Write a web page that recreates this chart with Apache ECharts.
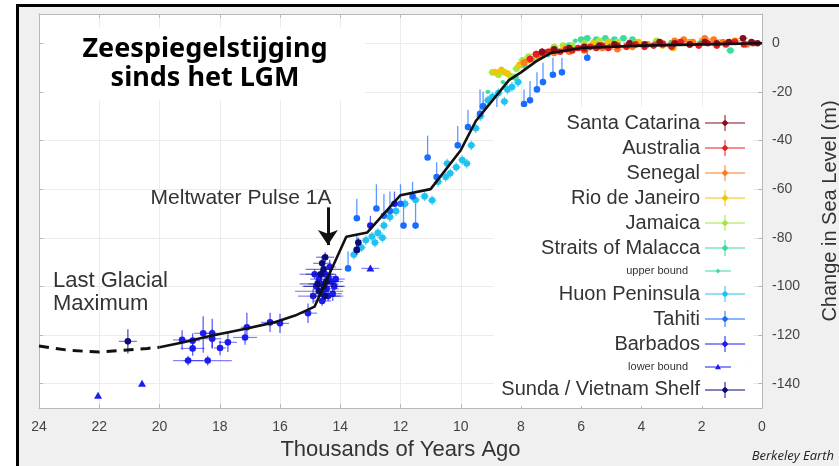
<!DOCTYPE html>
<html><head><meta charset="utf-8">
<script src="https://cdn.jsdelivr.net/npm/echarts@6/dist/echarts.min.js"></script>
<style>html,body{margin:0;padding:0;background:#fff}#c{width:839px;height:466px}</style>
</head><body><div id="c"></div>
<script>
// ---- axis ticks ----
const xTicks = [24, 22, 20, 18, 16, 14, 12, 10, 8, 6, 4, 2, 0];
const yTicks = [0, -20, -40, -60, -80, -100, -120, -140];

// ---- fitted curve [age ka, level m] ----
const fitDashed = [[24, -124.5], [23, -126.3], [22, -127], [21.2, -126.3], [20.4, -125.5], [20, -125]];
const fitSolid = [[20, -125], [19.2, -123], [18.4, -120.6], [17.1, -117.3], [16.2, -114.8], [15.5, -112], [14.85, -108.3],
  [13.8, -79.6], [13.1, -77.8], [12.0, -62.5], [11.0, -60], [10.0, -44], [9.5, -32], [8.4, -15.2], [8.0, -12],
  [7.5, -7.5], [7.0, -4], [6.0, -2], [4.0, -1], [2.0, -0.5], [0, 0]];

// ---- data: [age, level, ageErr, levelErrDown, levelErrUp] ----
const santaCatarina = [[7.3,-3.5,0.2,1.5,1.5],[6.9,-2.5,0.2,1,1],[6.4,-2,0.2,1,1],[5.9,-1.5,0.2,1,1],[5.4,-1,0.2,1,1],[4.9,-0.5,0.2,1,1],[4.4,0,0.2,1,1],[3.9,-0.5,0.2,1,1],[3.4,0.5,0.2,1,1],[2.9,0,0.2,1,1],[2.4,-0.5,0.2,1,1],[1.9,0.5,0.2,1,1],[1.5,0,0.2,1,1],[1.1,0.5,0.2,1,1],[0.63,2,0.15,1,1],[0.35,0.5,0.1,1,1],[0.15,0,0.1,1,1]];
const australia = [[7.7,-6.5,0.15,1.5,1.5],[7.5,-4.5,0.15,1.5,1.5],[7.3,-4,0.15,1,1],[7.1,-3.5,0.15,1,1],[6.9,-3,0.15,1,1],[6.7,-3.5,0.15,1,1],[6.5,-2.5,0.15,1,1],[6.3,-3,0.15,1,1],[6.1,-2,0.15,1,1],[5.9,-2.5,0.15,1,1],[5.7,-1.5,0.15,1,1],[5.5,-2,0.15,1,1],[5.3,-1,0.15,1,1],[5.1,-2,0.15,1,1],[4.8,-1,0.15,1,1],[4.5,-1.5,0.15,1,1],[4.2,-0.5,0.15,1,1],[3.9,-1.5,0.15,1,1],[3.6,-1,0.15,1,1],[3.3,-0.5,0.15,1,1],[3.0,-1.5,0.15,1,1],[2.7,0.5,0.15,1,1],[2.4,-0.5,0.15,1,1],[2.1,-1,0.15,1,1],[1.8,0,0.15,1,1],[1.5,-1,0.15,1,1],[1.2,-0.5,0.15,1,1],[0.9,0.5,0.15,1,1],[0.6,-0.5,0.15,1,1],[0.3,0,0.1,1,1]];
const senegal = [[7.9,-8,0.2,1.5,1.5],[7.4,-5.5,0.2,1.5,1.5],[6.9,-4,0.2,1,1],[6.4,-3.5,0.2,1,1],[5.9,-3,0.2,1,1],[5.3,-2,0.2,1,1],[4.8,-2.5,0.2,1,1],[4.3,-1.5,0.2,1,1],[3.8,-0.5,0.2,1,1],[3.3,0,0.2,1,1],[2.9,1,0.2,1,1],[2.6,1.5,0.2,1,1],[2.3,0.5,0.2,1,1],[1.9,2,0.2,1,1],[1.6,1.5,0.2,1,1],[1.3,0.5,0.2,1,1],[0.9,1,0.2,1,1],[0.5,-0.5,0.2,1,1]];
const rioDeJaneiro = [[8.85,-12,0.15,1.5,1.5],[8.65,-11,0.15,1.5,1.5],[8.45,-12.5,0.15,1.5,1.5],[8.05,-9,0.15,1.5,1.5],[7.75,-7,0.15,1,1],[7.35,-5,0.15,1,1],[6.95,-3,0.15,1,1],[6.55,-2,0.15,1,1],[5.6,0,0.15,1,1],[5.1,0.5,0.15,1,1],[4.1,0.5,0.15,1,1],[3.3,-1,0.15,1,1],[2.95,-2,0.15,1,1],[2.4,0.5,0.15,1,1],[1.9,1,0.15,1,1]];
const jamaica = [[8.95,-12,0.15,1.5,1.5],[8.75,-13,0.15,1.5,1.5],[8.55,-12,0.15,1.5,1.5],[8.35,-13.5,0.15,1.5,1.5],[8.15,-10.5,0.15,1.5,1.5],[7.95,-7,0.15,1,1],[7.75,-5.5,0.15,1,1],[7.5,-6,0.15,1,1],[7.2,-4,0.15,1,1],[6.9,-1.5,0.15,1,1],[6.6,-1,0.15,1,1],[6.3,-1,0.15,1,1],[5.9,0,0.15,1,1],[5.4,1,0.15,1,1],[4.8,0.5,0.15,1,1],[4.2,0,0.15,1,1],[3.5,1,0.15,1,1]];
const malacca = [[8.2,-14,0.15,1.5,1.5],[7.9,-9,0.15,1.5,1.5],[7.6,-6.5,0.15,1,1],[7.3,-4.5,0.15,1,1],[6.9,-2,0.15,1,1],[6.4,-1,0.15,1,1],[6.0,1.5,0.15,1,1],[5.8,2,0.15,1,1],[5.5,1.5,0.15,1,1],[5.2,2,0.15,1,1],[4.9,1.5,0.15,1,1],[4.6,2,0.15,1,1],[4.3,1.5,0.15,1,1],[3.0,0,0.15,1,1],[2.0,0.5,0.15,1,1],[1.05,-3,0.15,1,1]];
const upperBound = [[9.1,-20,0.1,0,0],[8.6,-16,0.1,0,0],[7.1,-5,0.1,0,0],[6.2,1,0.1,0,0]];
const huon = [[13.55,-87,0.15,2,2],[13.3,-84,0.15,2,2],[13.15,-81,0.15,2,2],[12.95,-79.5,0.15,2,2],[12.75,-78,0.15,2,2],[12.55,-75,0.15,2,2],[12.35,-71.5,0.15,2,2],[12.15,-69,0.15,2,2],[11.85,-66,0.15,2,2],[11.5,-64.5,0.15,2,2],[11.2,-63,0.15,2,2],[10.95,-64.6,0.15,2,2],[10.75,-57,0.15,2,2],[10.5,-55,0.15,2,2],[10.35,-53.5,0.15,2,2],[10.15,-51,0.15,2,2],[10.45,-49.5,0.15,2,2],[9.95,-48,0.15,2,2],[9.8,-49.5,0.15,2,2],[9.65,-42,0.15,2,2],[9.5,-35,0.15,2,2],[9.35,-30,0.15,2,2],[9.25,-26,0.15,2,2],[9.1,-23.5,0.15,2,2],[8.95,-22,0.15,2,2],[8.75,-20.5,0.15,2,2],[8.55,-24,0.15,2,2],[8.45,-19,0.15,2,2],[8.3,-18,0.15,2,2],[8.1,-16,0.15,2,2],[12.6,-80,0.15,2,2],[12.85,-82,0.15,2,2]];
const tahiti = [[13.74,-92.6,0.05,1,7],[13.45,-85,0.05,1,6],[13.45,-72,0.05,1,8],[12.8,-68,0.05,1,10],[12.55,-71,0.05,1,9],[12.35,-69,0.05,1,8],[12.0,-66,0.05,1,8],[11.9,-75,0.05,1,9],[11.5,-75,0.05,1,9],[11.6,-63,0.05,1,6],[11.1,-47,0.05,1,9],[10.8,-55,0.05,1,6],[10.1,-42,0.05,1,8],[9.76,-34.5,0.05,1,7],[9.36,-29,0.05,1,10],[9.26,-26,0.05,1,6],[8.8,-29,0.05,1,7],[8.63,-34,0.05,1,6],[8.7,-33,0.05,1,6],[7.9,-25,0.05,1,6],[7.7,-23.5,0.05,1,8],[7.47,-19,0.05,1,7],[7.27,-16,0.05,1,8],[6.94,-13,0.05,1,7],[6.64,-12,0.05,1,6],[5.8,-6,0.05,1,3]];
const barbados = [[19.25,-122,0.3,4,4],[18.9,-122.3,0.25,3,3],[18.9,-125.5,0.4,3,3],[19.05,-130.5,0.5,2,2],[18.4,-130.5,0.8,2,2],[18.55,-119.3,0.3,8,7],[18.25,-119.3,0.3,6,6],[18.25,-121.5,0.3,4,4],[17.99,-125.3,0.2,3,3],[17.73,-123,0.3,4,4],[17.16,-121,0.4,3,3],[17.1,-116.8,0.2,4,6],[16.33,-114.8,0.3,4,4],[16.0,-115.2,0.3,4,4],[15.07,-111,0.3,4,4],
  [14.9,-104,0.5,3,3],[14.8,-100,0.4,3,3],[14.7,-97,0.3,2,3],[14.6,-103,0.4,3,3],[14.55,-99,0.5,2,2],[14.5,-95,0.3,3,3],[14.45,-101,0.4,2,2],[14.4,-96,0.3,2,2],[14.35,-92,0.2,3,3],[14.3,-98,0.4,2,2],[14.25,-103,0.3,3,3],[14.2,-100,0.3,2,2],[14.6,-106,0.3,2,2],[14.85,-95,0.5,2,2],[14.15,-97,0.3,2,2],[14.4,-104,0.5,2,2],
  [13.0,-75,0.1,1,4],[12.2,-66,0.1,1,5]];
const lowerBound = [[22.04,-145,0,0,0],[20.58,-140,0,0,0],[13.0,-92.6,0.3,0,0]];
const sunda = [[21.05,-122.6,0.3,5,5],[14.75,-99,0.6,2,2],[14.65,-95,0.5,2,2],[14.55,-100,0.7,2,2],[14.5,-104,0.5,2,2],[14.45,-98,0.4,2,2],[14.6,-90.5,0.3,3,3],[14.5,-88,0.3,2,2],[14.7,-102,0.8,2,2],[14.55,-93,0.6,2,2],[13.45,-85,0.1,2,2],[13.4,-82,0.1,2,2]];

// ---- annotation anchors ----
const mwpArrow = [[14.41, -67.5], [14.41, -83]];

const ICON_BIG = 'path://M0,7.5h40v1h-40z M19.5,0h1v16h-1z M20,4.5L23.5,8L20,11.5L16.5,8z';
const ICON_UP = 'path://M0,7.6h26v0.8h-26z M13,5.6L15.4,8L13,10.4L10.6,8z M40,0L40.02,0L40,16z';
const ICON_LOW = 'path://M0,7.6h26v0.8h-26z M13,4.8L16,10.2L10,10.2z M40,0L40.02,0L40,16z';

const sets = [
  {name: 'Santa Catarina', data: santaCatarina, color: '#8b0d1c', shape: 'c'},
  {name: 'Australia', data: australia, color: '#ec1c24', shape: 'c'},
  {name: 'Senegal', data: senegal, color: '#ff7a1a', shape: 'c'},
  {name: 'Rio de Janeiro', data: rioDeJaneiro, color: '#f5c400', shape: 'c'},
  {name: 'Jamaica', data: jamaica, color: '#a4e646', shape: 'c'},
  {name: 'Straits of Malacca', data: malacca, color: '#3ddc9c', shape: 'c'},
  {name: 'upper bound', data: upperBound, color: '#3ddc9c', shape: 's'},
  {name: 'Huon Peninsula', data: huon, color: '#22c2f0', shape: 'c'},
  {name: 'Tahiti', data: tahiti, color: '#1a6dff', shape: 'c'},
  {name: 'Barbados', data: barbados, color: '#1c1cf0', shape: 'c'},
  {name: 'lower bound', data: lowerBound, color: '#1c1cf0', shape: 't'},
  {name: 'Sunda / Vietnam Shelf', data: sunda, color: '#0b0b7a', shape: 'c'}
];
const drawOrder = ['Huon Peninsula', 'Straits of Malacca', 'upper bound', 'Jamaica', 'Rio de Janeiro', 'Senegal', 'Australia', 'Santa Catarina', 'Tahiti', 'Barbados', 'lower bound', 'Sunda / Vietnam Shelf'];

function makeRender(shape) {
  return function (params, api) {
    const x = api.value(0), y = api.value(1), xe = api.value(2), ed = api.value(3), eu = api.value(4);
    const c = api.coord([x, y]);
    const color = api.visual('color');
    const ch = [];
    if (xe > 0) {
      const l = api.coord([x - xe, y]), r = api.coord([x + xe, y]);
      ch.push({type: 'line', shape: {x1: l[0], y1: l[1], x2: r[0], y2: r[1]}, style: {stroke: color, lineWidth: 1.2, opacity: 0.55}});
    }
    if (ed > 0 || eu > 0) {
      const b = api.coord([x, y - ed]), t = api.coord([x, y + eu]);
      ch.push({type: 'line', shape: {x1: b[0], y1: b[1], x2: t[0], y2: t[1]}, style: {stroke: color, lineWidth: 1.3, opacity: 0.7}});
    }
    if (shape === 't') {
      ch.push({type: 'polygon', shape: {points: [[c[0], c[1] - 4], [c[0] + 4, c[1] + 3], [c[0] - 4, c[1] + 3]]}, style: {fill: color}});
    } else {
      ch.push({type: 'circle', shape: {cx: c[0], cy: c[1], r: shape === 's' ? 2.2 : 3.3}, style: {fill: color}});
    }
    return {type: 'group', children: ch};
  };
}

const series = drawOrder.map(n => {
  const s = sets.find(d => d.name === n);
  return {
    type: 'custom', name: s.name, data: s.data, clip: true,
    dimensions: ['age', 'level', 'ageErr', 'lo', 'hi'],
    encode: {x: 0, y: 1},
    itemStyle: {color: s.color},
    renderItem: makeRender(s.shape), z: 3
  };
});
series.push({
  type: 'line', name: 'fitDashed', data: fitDashed, showSymbol: false, symbol: 'none', z: 5,
  lineStyle: {color: '#111', width: 3, type: [10, 7]}, silent: true
});
series.push({
  type: 'line', name: 'fitSolid', data: fitSolid, showSymbol: false, symbol: 'none', z: 5,
  lineStyle: {color: '#111', width: 2.6}, silent: true,
  markLine: {
    silent: true, symbol: ['none', 'arrow'], symbolSize: 15,
    lineStyle: {color: '#111', width: 3, type: 'solid', opacity: 1}, label: {show: false},
    emphasis: {disabled: true},
    data: [[{coord: mwpArrow[0]}, {coord: mwpArrow[1]}]]
  }
});

const legendData = sets.map(s => ({
  name: s.name,
  icon: s.shape === 's' ? ICON_UP : (s.shape === 't' ? ICON_LOW : ICON_BIG)
}));

const gridLine = {color: '#b8b8b8', width: 1};
const labelFont = 'Liberation Sans';

const option = {
  backgroundColor: '#ffffff',
  animation: false,
  grid: {left: 39, right: 77, top: 14, bottom: 58, show: true, backgroundColor: '#ffffff', borderWidth: 0,
    containLabel: false, outerBoundsMode: 'none'},
  legend: {
    data: legendData, orient: 'vertical', align: 'right', right: 86, top: 107,
    itemWidth: 40, itemHeight: 16, itemGap: 5, selectedMode: false,
    backgroundColor: '#ffffff', padding: [6, 8, 6, 8],
    itemStyle: {borderWidth: 0},
    formatter: n => (n === 'upper bound' || n === 'lower bound') ? '{s|' + n + '}' : '{b|' + n + '}',
    textStyle: {
      color: '#333', fontFamily: labelFont,
      rich: {
        b: {fontSize: 20, lineHeight: 20, fontFamily: labelFont, color: '#333'},
        s: {fontSize: 11, lineHeight: 20, fontFamily: labelFont, color: '#333', padding: [0, 12, 0, 0]}
      }
    }
  },
  xAxis: [
    {
      type: 'value', min: 0, max: 24, interval: 2, inverse: true, position: 'bottom',
      name: 'Thousands of Years Ago', nameLocation: 'middle', nameGap: 28,
      nameTextStyle: {fontFamily: labelFont, fontSize: 22, color: '#333'},
      axisLine: {onZero: false, lineStyle: gridLine}, axisTick: {inside: true, length: 4, lineStyle: {color: '#b8b8b8'}},
      axisLabel: {fontFamily: labelFont, fontSize: 14, color: '#444', margin: 12, formatter: v => String(v)},
      splitLine: {show: true, lineStyle: {color: '#ececec', width: 1}}
    },
    {
      type: 'value', min: 0, max: 24, interval: 2, inverse: true, position: 'top',
      axisLine: {onZero: false, lineStyle: gridLine}, axisTick: {inside: true, length: 4, lineStyle: {color: '#b8b8b8'}},
      axisLabel: {show: false}, splitLine: {show: false}
    }
  ],
  yAxis: [
    {
      type: 'value', min: -150, max: 12, position: 'right',
      name: 'Change in Sea Level (m)', nameLocation: 'middle', nameGap: 58, nameRotate: 90,
      nameTextStyle: {fontFamily: labelFont, fontSize: 20, color: '#333'},
      axisLine: {show: true, onZero: false, lineStyle: gridLine},
      axisTick: {show: true, inside: true, length: 4, customValues: yTicks, lineStyle: {color: '#b8b8b8'}},
      axisLabel: {fontFamily: labelFont, fontSize: 14, color: '#444', margin: 10, customValues: yTicks},
      splitLine: {show: true, lineStyle: {color: '#ececec', width: 1}}
    },
    {
      type: 'value', min: -150, max: 12, position: 'left',
      axisLine: {show: true, onZero: false, lineStyle: gridLine},
      axisTick: {show: true, inside: true, length: 4, customValues: yTicks, lineStyle: {color: '#b8b8b8'}},
      axisLabel: {show: false, customValues: yTicks}, splitLine: {show: false}
    }
  ],
  graphic: [
    {type: 'rect', z: -10, silent: true, shape: {x: 17.5, y: 5.5, width: 840, height: 480},
      style: {fill: '#f0f0f0', stroke: '#000', lineWidth: 3}},
    {type: 'rect', z: 20, silent: true, shape: {x: 45, y: 28, width: 320, height: 72}, style: {fill: '#ffffff'}},
    {type: 'text', z: 21, silent: true, x: 205, y: 64,
      style: {text: 'Zeespiegelstijging\nsinds het LGM', font: 'bold 27px "Noto Sans"', lineHeight: 29,
        fill: '#000', align: 'center', verticalAlign: 'middle'}},
    {type: 'text', z: 21, silent: true, x: 241, y: 198,
      style: {text: 'Meltwater Pulse 1A', font: '21px "Liberation Sans"', fill: '#333', align: 'center', verticalAlign: 'middle'}},
    {type: 'text', z: 21, silent: true, x: 53, y: 292,
      style: {text: 'Last Glacial\nMaximum', font: '22px "Liberation Sans"', lineHeight: 23, fill: '#333', align: 'left', verticalAlign: 'middle'}},
    {type: 'text', z: 21, silent: true, x: 834, y: 456,
      style: {text: 'Berkeley Earth', font: 'italic 13px "Open Sans"', fill: '#222', align: 'right', verticalAlign: 'middle'}}
  ],
  series: series
};

const chart = echarts.init(document.getElementById('c'), null, {renderer: 'canvas'});
chart.setOption(option);
</script>
</body></html>
